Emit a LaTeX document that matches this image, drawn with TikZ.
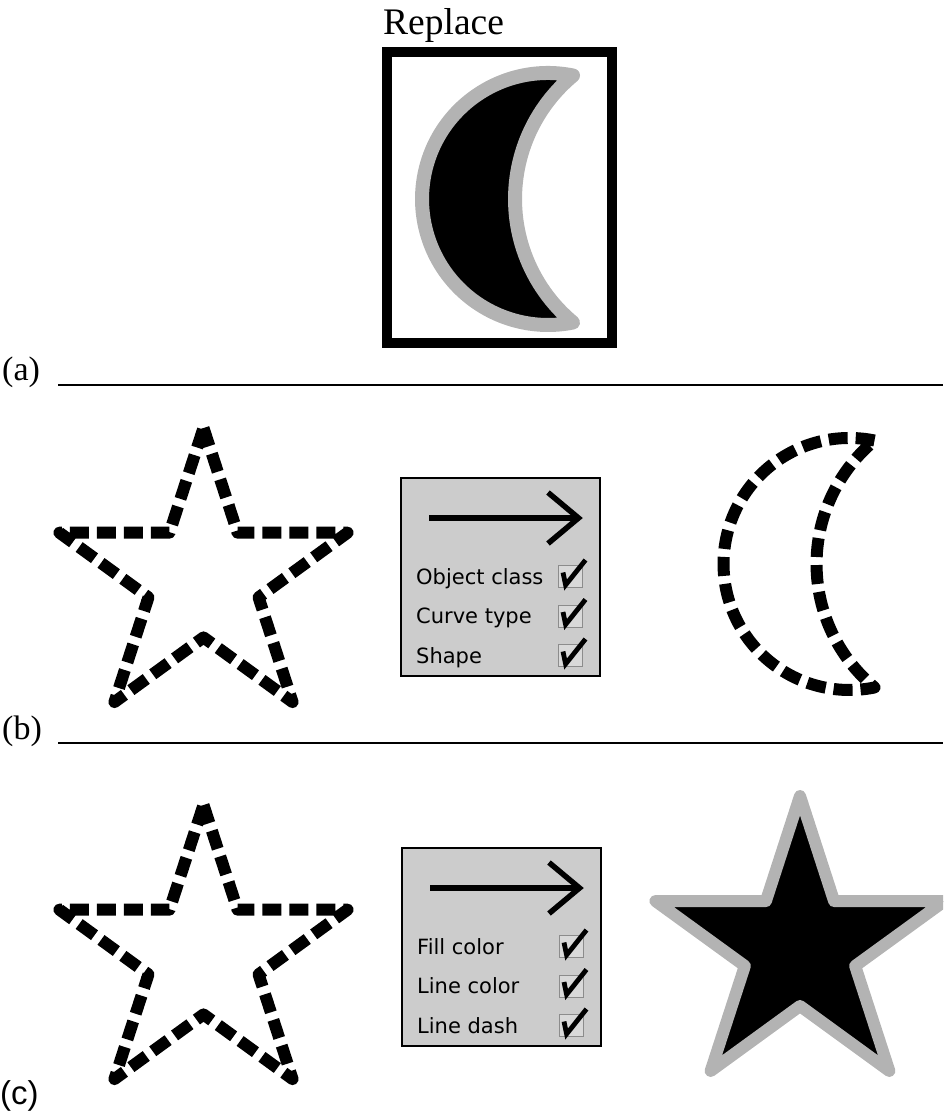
\documentclass[tikz,border=0pt]{standalone}
\usepackage{fontspec}
\setmainfont{Liberation Serif}
\newfontfamily\uifont{DejaVu Sans}
\newfontfamily\helvfont{Liberation Sans}
\definecolor{shapegray}{HTML}{B3B3B3}
\definecolor{panelgray}{HTML}{CCCCCC}
\definecolor{boxgray}{HTML}{D9D9D9}
\tikzset{
  sepline/.style={line width=1.5pt},
  panellabel/.style={anchor=base west, inner sep=0pt, font=\fontsize{34}{38}\selectfont},
  dialogbox/.style={anchor=north west, draw=black, line width=2pt, fill=panelgray,
    minimum width=199pt, minimum height=198pt, inner sep=0pt, outer sep=0pt},
  arrowline/.style={line width=5.5pt, line cap=butt, line join=miter},
  rowtext/.style={anchor=base west, inner sep=0pt, font=\uifont\fontsize{21}{24}\selectfont},
  checkbox/.style={anchor=north west, draw=black!45, line width=1.2pt, fill=boxgray,
    minimum width=24pt, minimum height=22pt, inner sep=0pt},
  checkline/.style={line width=4.8pt, line join=miter, line cap=butt},
  dashedstar/.style={line width=12pt, dash pattern=on 19pt off 8pt, line join=round},
  dashedmoon/.style={line width=12pt, dash pattern=on 19pt off 8pt, line join=round},
  filledshape/.style={fill=black, draw=shapegray, line width=12pt, line join=round},
}
% moon outline, relative to its leftmost point
\newcommand\moonoutline{(151,-123.5) arc[start angle=-78.56, end angle=-281.44, radius=126]
  arc[start angle=129.7, end angle=230.3, radius=160.5] -- cycle}
\newcommand\staroutline{(-90:151.5) -- (-54:57.9) -- (-18:151.5) -- (18:57.9) -- (54:151.5)
  -- (90:57.9) -- (126:151.5) -- (162:57.9) -- (198:151.5) -- (234:57.9) -- cycle}
% one row of a dialog: #1 prefix, #2 row no, #3 baseline, #4 text
\newcommand\dialogrow[4]{%
  \node[rowtext] (#1-t#2) at (15,#3) {#4};
  \node[checkbox] (#1-c#2) at (156.5,#3-19) {};
  \coordinate (#1-k#2a) at (162,#3-11.5);
  \coordinate (#1-k#2b) at (164.6,#3+1);
  \coordinate (#1-k#2c) at (184.5,#3-24);
  \draw[checkline] (#1-k#2a) -- (#1-k#2b) -- (#1-k#2c);}
% dialog: #1 prefix, #2 top-left, #3-#5 texts
\newcommand\drawdialog[5]{%
  \begin{scope}[shift={#2}]
    \node[dialogbox] (#1) at (0,0) {};
    \coordinate (#1-a) at (28,40);
    \coordinate (#1-b) at (177.5,40);
    \coordinate (#1-u) at (147,14.5);
    \coordinate (#1-d) at (147,65.5);
    \draw[arrowline] (#1-a) -- (#1-b);
    \draw[arrowline] (#1-u) -- (#1-b) -- (#1-d);
    \dialogrow{#1}{1}{106}{#3}
    \dialogrow{#1}{2}{145.5}{#4}
    \dialogrow{#1}{3}{185}{#5}
  \end{scope}}
\begin{document}
\begin{tikzpicture}[x=1pt, y=-1pt]
  \useasboundingbox (0,0) rectangle (943,1116);
  \clip (0,0) rectangle (943,1116);

  % (a)
  \node[anchor=base west, inner sep=0pt, font=\fontsize{37.5}{42}\selectfont] (title) at (383,35) {Replace};
  \node[draw=black, line width=10pt, minimum width=225pt, minimum height=291pt,
        inner sep=0pt, outer sep=0pt] (frame) at (499,197.5) {};
  \begin{scope}[shift={(422,199)}]
    \path[filledshape, line width=14pt] \moonoutline;
  \end{scope}
  \node[panellabel] (labA) at (2,380) {(a)};
  \coordinate (sepA1) at (58,385);
  \coordinate (sepA2) at (943,385);
  \draw[sepline] (sepA1) -- (sepA2);

  % (b)
  \begin{scope}[shift={(203.5,579.5)}]
    \draw[dashedstar] \staroutline;
  \end{scope}
  \drawdialog{dlgB}{(401,478)}{Object class}{Curve type}{Shape}
  \begin{scope}[shift={(723.5,564)}]
    \draw[dashedmoon] \moonoutline;
  \end{scope}
  \node[panellabel] (labB) at (2,739) {(b)};
  \coordinate (sepB1) at (58,743);
  \coordinate (sepB2) at (943,743);
  \draw[sepline] (sepB1) -- (sepB2);

  % (c)
  \begin{scope}[shift={(203.5,956.5)}]
    \draw[dashedstar] \staroutline;
  \end{scope}
  \drawdialog{dlgC}{(402,848)}{Fill color}{Line color}{Line dash}
  \begin{scope}[shift={(800,948)}]
    \path[filledshape] (-90:152) -- (-54:58) -- (-18:152) -- (18:58) -- (54:152)
      -- (90:58) -- (126:152) -- (162:58) -- (198:152) -- (234:58) -- cycle;
  \end{scope}
  \node[panellabel, font=\helvfont\fontsize{33}{36}\selectfont] (labC) at (0,1104) {(c)};
\end{tikzpicture}
\end{document}
